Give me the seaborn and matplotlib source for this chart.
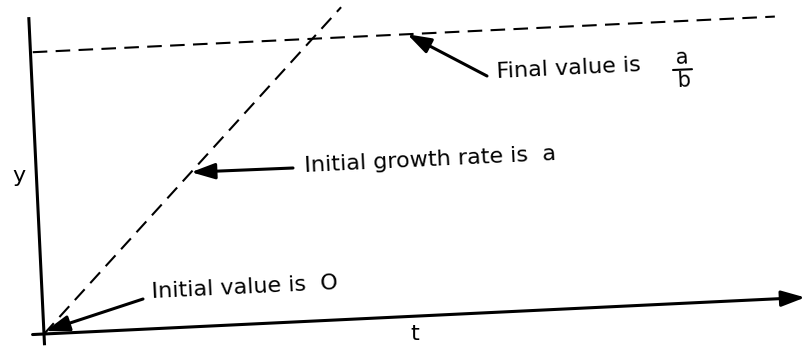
import numpy as np
import matplotlib
matplotlib.use("Agg")
import matplotlib.pyplot as plt
from matplotlib.transforms import Affine2D
from matplotlib.lines import Line2D
import pandas as pd
import seaborn as sns

sns.set_theme(style="white")
plt.rcParams["font.family"] = ["DejaVu Sans"]
plt.rcParams["text.color"] = "black"

# Model quantities (logical units)
growth_rate = 0.27          # a : initial slope of the curve
final_value = 1.0           # a / b : asymptotic level
initial_value = 0.0         # y(0)
t_max = 10.0                # length of the t axis
y_max = 1.125               # length of the y axis
t_growth_end = 4.1          # where the tangent line is cut off
t_final_start, t_final_end = 0.03, 9.78

W, H, DPI = 806, 347, 100
TILT = 2.75                 # the whole drawing sits slightly rotated
ORIGIN_PX = (44, 13)        # origin in figure pixels (from bottom-left)
PX_PER_T = 76.2
PX_PER_Y = 282.0

fig = plt.figure(figsize=(W / DPI, H / DPI), dpi=DPI)
ax = fig.add_axes([0, 0, 1, 1])
ax.set_axis_off()
ax.set_xlim(-ORIGIN_PX[0] / PX_PER_T, (W - ORIGIN_PX[0]) / PX_PER_T)
ax.set_ylim(-ORIGIN_PX[1] / PX_PER_Y, (H - ORIGIN_PX[1]) / PX_PER_Y)

rot = ax.transData + Affine2D().rotate_deg_around(ORIGIN_PX[0], ORIGIN_PX[1], TILT)

# Dashed guide lines
tangent = pd.DataFrame({"t": [0.0, t_growth_end],
                        "y": [initial_value, initial_value + growth_rate * t_growth_end]})
plateau = pd.DataFrame({"t": [t_final_start, t_final_end],
                        "y": [final_value, final_value]})
dash_kw = dict(color="black", lw=1.5, dashes=(7, 4), transform=rot, clip_on=False)
ax.plot(tangent["t"], tangent["y"], **dash_kw)
ax.plot(plateau["t"], plateau["y"], **dash_kw)

# Axes drawn by hand
ax.plot([0, 0], [-0.04, y_max], color="black", lw=2.2, transform=rot,
        solid_capstyle="butt", clip_on=False)
ax.annotate("", xy=(t_max, 0), xycoords=rot, xytext=(-0.15, 0), textcoords=rot,
            arrowprops=dict(arrowstyle="-|>,head_length=0.9,head_width=0.3",
                            lw=2.2, color="black", shrinkA=0, shrinkB=0,
                            mutation_scale=16))

arrow_kw = dict(arrowstyle="-|>,head_length=0.9,head_width=0.3", lw=2.2,
                color="black", shrinkA=0, shrinkB=0, mutation_scale=16)
fs = 16
txt_kw = dict(color="black", rotation=TILT, rotation_mode="anchor")

# Final value annotation
ax.annotate("", xy=(4.95, final_value), xycoords=rot,
            xytext=(487, H - 76), textcoords="figure pixels", arrowprops=arrow_kw)
fig.text(497 / W, (H - 72) / H, "Final value is", fontsize=fs, ha="left",
         va="center", **txt_kw)
fig.text(682 / W, (H - 58) / H, "a", fontsize=15, ha="center", va="center", **txt_kw)
fig.text(683 / W, (H - 81) / H, "b", fontsize=15, ha="center", va="center", **txt_kw)
fig.add_artist(Line2D([673 / W, 692 / W], [(H - 70) / H, (H - 69.2) / H],
                      color="black", lw=1.5))

# Initial growth rate annotation
t_tip = 2.03
ax.annotate("", xy=(t_tip, growth_rate * t_tip), xycoords=rot,
            xytext=(293, H - 168), textcoords="figure pixels", arrowprops=arrow_kw)
fig.text(305 / W, (H - 166) / H, "Initial growth rate is  a", fontsize=fs,
         ha="left", va="center", **txt_kw)

# Initial value annotation
ax.annotate("", xy=(0.02, initial_value + 0.01), xycoords=rot,
            xytext=(143, H - 299), textcoords="figure pixels", arrowprops=arrow_kw)
fig.text(152 / W, (H - 292) / H, "Initial value is  O", fontsize=fs,
         ha="left", va="center", **txt_kw)

# Axis names
fig.text(19 / W, (H - 176) / H, "y", fontsize=fs, ha="center", va="center", color="black")
fig.text(415 / W, (H - 334) / H, "t", fontsize=fs, ha="center", va="center", color="black")

fig.savefig("out.png", dpi=DPI, facecolor="white")
